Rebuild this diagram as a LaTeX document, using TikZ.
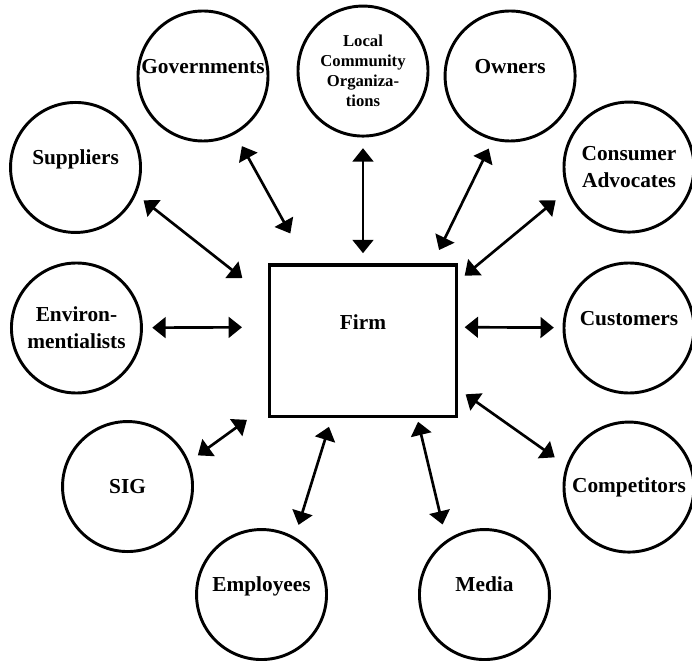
\documentclass[tikz,border=0pt]{standalone}
\usepackage{fontspec}
\setmainfont{Liberation Serif}
\usepackage{tikz}
\usetikzlibrary{shapes.geometric, arrows.meta}
\tikzstyle{party} = [circle, minimum size=97.5pt, inner sep=0pt, align=center, draw=black, line width=2.2pt, font=\bfseries\fontsize{16}{20}\selectfont]
\tikzstyle{raised} = [text height=11pt, text depth=15pt]
\tikzstyle{firmbox} = [rectangle, minimum width=140pt, minimum height=113.5pt, draw=black, line width=2.5pt, text height=11pt, text depth=28pt, font=\bfseries\fontsize{16}{20}\selectfont]
\tikzstyle{arrow} = [line width=2pt, <->, >={Triangle[length=10pt,width=15.5pt]}]

\begin{document}
\begin{tikzpicture}[node distance=200pt]
				\useasboundingbox (-272.25pt,-239.6pt) rectangle (246.75pt,255.4pt);
				\node(firm) [firmbox] {Firm};
				%----------------------------------------------------%
				\node(gov) [party, raised, above of=firm, xshift=-120pt, yshift=-1.6pt] {Governments};
				\node(lco) [party, above of=firm, yshift=2.1pt, font=\bfseries\fontsize{12.5}{15}\selectfont] {Local\\Community\\Organiza-\\tions};
				\node(own) [party, raised, above of=firm, xshift=110.3pt, yshift=-1.6pt] {Owners};
				
				\draw[arrow, shorten <=10.3pt, shorten >=25.5pt] (gov) -- (firm.126);
				\draw[arrow, shorten <=8pt, shorten >=7.5pt] (lco) -- (firm);
				\draw[arrow, shorten <=7pt, shorten >=11pt] (own.255) -- (firm.48);
				
				%----------------------------------------------------%
				\node(sup) [party, raised, left of=firm, xshift=-15.6pt, yshift=129.8pt] {Suppliers};
				\node(env) [party, left of=firm, xshift=-14.9pt, yshift=9.4pt] {Environ-\\mentialists};
				\node(sig) [party, left of=firm, xshift=23.4pt, yshift=-109.5pt] {SIG};
				
				\draw[arrow, shorten <=7pt, shorten >=24.5pt] (sup.336) -- (firm.156);
				\draw[arrow, shorten <=7pt, shorten >=19.5pt] (env) -- (firm.172);
				\draw[arrow, shorten <=8pt, shorten >=19.5pt] (sig.22) -- (firm.214);
				
				%----------------------------------------------------%
				\node(ca) [party, right of=firm, xshift=-0.5pt, yshift=130.1pt] {Consumer\\Advocates};
				\node(cust) [party, raised, right of=firm, xshift=-0.5pt, yshift=9.4pt] {Customers};
				\node(comp) [party, right of=firm, xshift=-0.5pt, yshift=-109.9pt] {Competitors};
				
				\draw[arrow, shorten <=11pt, shorten >=6.5pt] (ca.201) -- (firm.32);
				\draw[arrow, shorten <=6.5pt, shorten >=5pt] (cust) -- (firm.8);
				\draw[arrow, shorten <=10.5pt, shorten >=7pt] (comp.161) -- (firm.333);
				
				%----------------------------------------------------%
				\node(emp) [party, raised, below of=firm, xshift=-76.1pt, yshift=9.5pt] {Employees};
				\node(media) [party, raised, below of=firm, xshift=91.1pt, yshift=9.5pt] {Media};
				
				\draw[arrow, shorten <=9.5pt, shorten >=7pt] (emp.60) -- (firm.248);
				\draw[arrow, shorten <=12pt, shorten >=3pt] (media.125) -- (firm.305);
			\end{tikzpicture}
\end{document}
